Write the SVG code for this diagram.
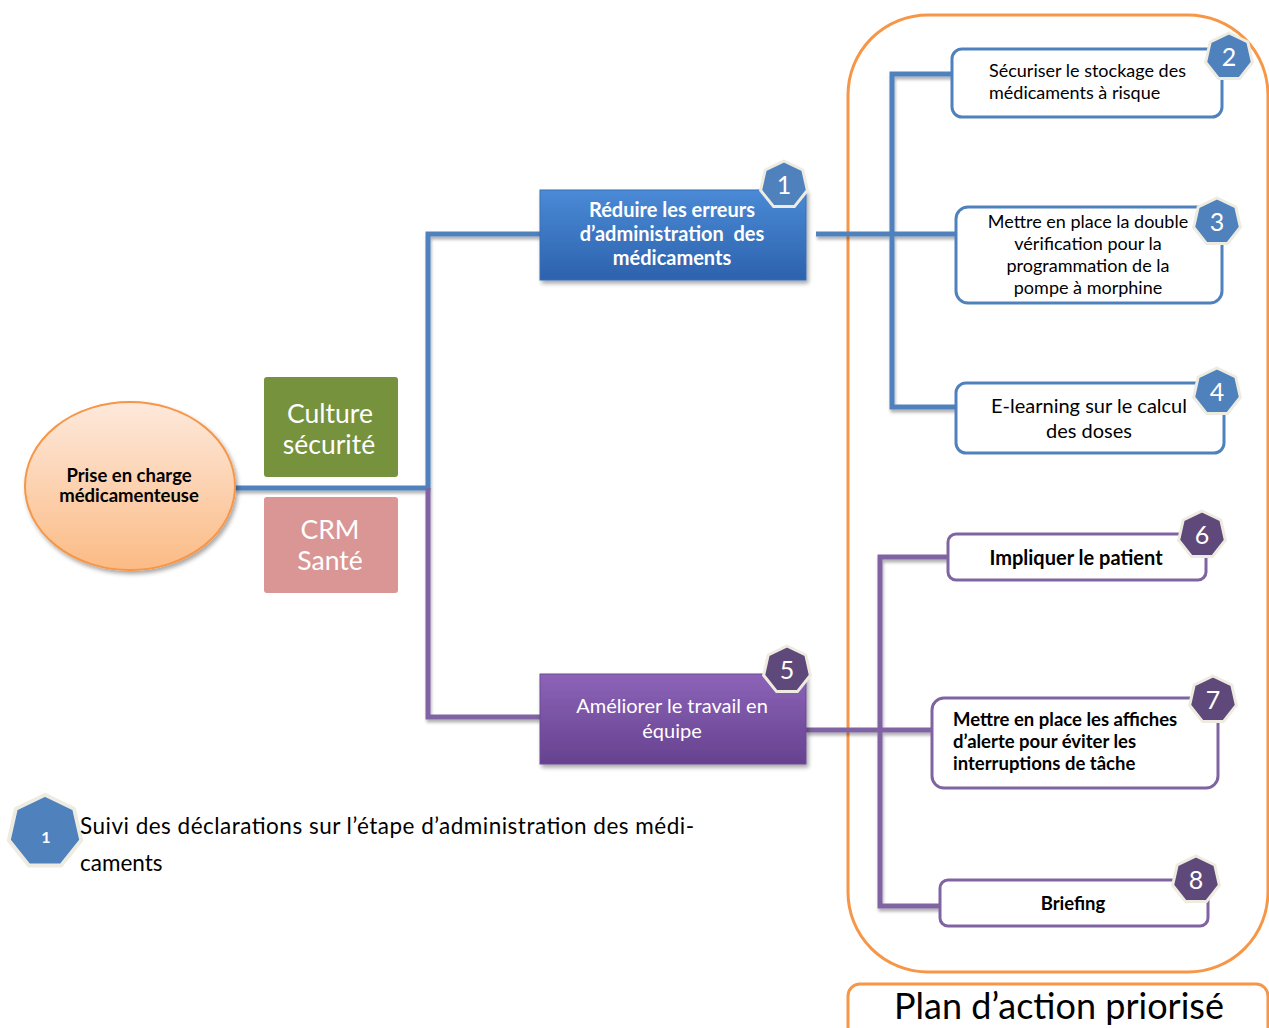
<svg xmlns="http://www.w3.org/2000/svg" width="1269" height="1028" viewBox="0 0 1269 1028">
<defs>
<linearGradient id="gBlue" x1="0" y1="0" x2="0" y2="1"><stop offset="0" stop-color="#4a8ad6"/><stop offset="1" stop-color="#2d62ad"/></linearGradient>
<linearGradient id="gPurple" x1="0" y1="0" x2="0" y2="1"><stop offset="0" stop-color="#8c63b8"/><stop offset="1" stop-color="#66428f"/></linearGradient>
<linearGradient id="gOrange" x1="0" y1="0" x2="0" y2="1"><stop offset="0" stop-color="#fde9dc"/><stop offset="1" stop-color="#fbbb85"/></linearGradient>
<filter id="sh" x="-10%" y="-10%" width="130%" height="140%"><feDropShadow dx="2" dy="3" stdDeviation="2" flood-color="#000" flood-opacity="0.35"/></filter>
<filter id="lsh" x="-5%" y="-5%" width="110%" height="110%"><feDropShadow dx="1" dy="3" stdDeviation="1.5" flood-color="#000" flood-opacity="0.3"/></filter>
<polygon id="hept" points="0,-24 18.8,-15 23.4,5.3 10.4,21.6 -10.4,21.6 -23.4,5.3 -18.8,-15"/>
<style>
text{font-family:Lato,"Open Sans","Liberation Sans",sans-serif;}
.blueline{fill:none;stroke:#4f81bd;stroke-width:5;}
.purpline{fill:none;stroke:#8064a2;stroke-width:5;}
.bnode{fill:#fff;stroke:#4f81bd;stroke-width:3;}
.pnode{fill:#fff;stroke:#8064a2;stroke-width:3;}
.badgeB{fill:#4f81bd;stroke:#eeece1;stroke-width:3;}
.badgeP{fill:#5f497a;stroke:#eeece1;stroke-width:3;}
.num{fill:#fff;font-size:25px;text-anchor:middle;}
.t{fill:#000;font-size:18px;}
.c{text-anchor:middle;}
.b{font-weight:bold;}
</style>
</defs>
<rect width="1269" height="1028" fill="#fff"/>

<g id="container">
<rect x="848" y="15" width="420" height="957" rx="80" fill="none" stroke="#f79646" stroke-width="3"/>
</g>
<g id="title">
<rect x="848" y="984" width="420" height="60" rx="12" fill="#fff" stroke="#f79646" stroke-width="3"/>
<text x="1059" y="1019" style="font-size:36px" class="c" fill="#000">Plan d’action priorisé</text>
</g>

<g id="connectors" filter="url(#lsh)">
<polyline class="blueline" points="235,488 428,488 428,234 540,234"/>
<polyline class="purpline" points="428,488 428,717 540,717"/>
<line class="blueline" x1="816" y1="234" x2="956" y2="234"/>
<polyline class="blueline" points="952,74 892,74 892,407 956,407"/>
<line class="purpline" x1="806" y1="730" x2="932" y2="730"/>
<polyline class="purpline" points="948,557 880,557 880,906 940,906"/>
</g>

<g id="n0">
<ellipse cx="130" cy="486" rx="105" ry="84" fill="url(#gOrange)" stroke="#f79646" stroke-width="2" filter="url(#sh)"/>
<text x="129" y="482" class="t c b" style="font-size:18.5px">Prise en charge</text>
<text x="129" y="502" class="t c b" style="font-size:18.5px">médicamenteuse</text>
</g>

<g id="culture">
<rect x="263" y="376" width="136" height="102" rx="4" fill="#76923c" stroke="#fff" stroke-width="2"/>
<text x="330" y="423" class="c" fill="#fff" style="font-size:26.5px">Culture</text>
<text x="329" y="454" class="c" fill="#fff" style="font-size:26.5px">sécurité</text>
</g>
<g id="crm">
<rect x="263" y="496" width="136" height="98" rx="4" fill="#d99694" stroke="#fff" stroke-width="2"/>
<text x="330" y="539" class="c" fill="#fff" style="font-size:26.5px">CRM</text>
<text x="330" y="570" class="c" fill="#fff" style="font-size:26.5px">Santé</text>
</g>

<g id="n1">
<rect x="540" y="190" width="266" height="90" fill="url(#gBlue)" stroke="#3a6fb5" stroke-width="1" filter="url(#sh)"/>
<text x="672" y="217" class="c b" fill="#fff" style="font-size:20px">Réduire les erreurs</text>
<text x="672" y="241" class="c b" fill="#fff" style="font-size:20px" xml:space="preserve">d’administration  des</text>
<text x="672" y="265" class="c b" fill="#fff" style="font-size:20px">médicaments</text>
<use href="#hept" x="784" y="185" class="badgeB"/>
<text x="784" y="194" class="num">1</text>
</g>

<g id="n5">
<rect x="540" y="674" width="266" height="90" fill="url(#gPurple)" stroke="#6a4a94" stroke-width="1" filter="url(#sh)"/>
<text x="672" y="713" class="c" fill="#fff" style="font-size:20px">Améliorer le travail en</text>
<text x="672" y="738" class="c" fill="#fff" style="font-size:20px">équipe</text>
<use href="#hept" x="787" y="670" class="badgeP"/>
<text x="787" y="679" class="num">5</text>
</g>

<g id="n2">
<rect x="952" y="49" width="270" height="68" rx="10" class="bnode"/>
<text x="989" y="77" class="t">Sécuriser le stockage des</text>
<text x="989" y="99" class="t">médicaments à risque</text>
<use href="#hept" x="1229" y="57" class="badgeB"/>
<text x="1229" y="66" class="num">2</text>
</g>

<g id="n3">
<rect x="956" y="207" width="266" height="96" rx="12" class="bnode"/>
<text x="1088" y="228" class="t c">Mettre en place la double</text>
<text x="1088" y="250" class="t c">vérification pour la</text>
<text x="1088" y="272" class="t c">programmation de la</text>
<text x="1088" y="294" class="t c">pompe à morphine</text>
<use href="#hept" x="1217" y="222" class="badgeB"/>
<text x="1217" y="231" class="num">3</text>
</g>

<g id="n4">
<rect x="956" y="383" width="268" height="70" rx="10" class="bnode"/>
<text x="1089" y="413" class="t c" style="font-size:20px">E-learning sur le calcul</text>
<text x="1089" y="438" class="t c" style="font-size:20px">des doses</text>
<use href="#hept" x="1217" y="392" class="badgeB"/>
<text x="1217" y="401" class="num">4</text>
</g>

<g id="n6">
<rect x="948" y="534" width="258" height="46" rx="8" class="pnode"/>
<text x="1076" y="565" class="t c b" style="font-size:20px">Impliquer le patient</text>
<use href="#hept" x="1202" y="535" class="badgeP"/>
<text x="1202" y="544" class="num">6</text>
</g>

<g id="n7">
<rect x="932" y="698" width="286" height="90" rx="12" class="pnode"/>
<text x="953" y="726" class="t b" style="font-size:18.5px">Mettre en place les affiches</text>
<text x="953" y="748" class="t b" style="font-size:18.5px">d’alerte pour éviter les</text>
<text x="953" y="770" class="t b" style="font-size:18.5px">interruptions de tâche</text>
<use href="#hept" x="1213" y="700" class="badgeP"/>
<text x="1213" y="709" class="num">7</text>
</g>

<g id="n8">
<rect x="940" y="880" width="268" height="46" rx="8" class="pnode"/>
<text x="1073" y="910" class="t c b" style="font-size:18.5px">Briefing</text>
<use href="#hept" x="1196" y="880" class="badgeP"/>
<text x="1196" y="889" class="num">8</text>
</g>

<g id="legend">
<use href="#hept" transform="translate(45,832) scale(1.55)" fill="#4f81bd" stroke="#eeece1" stroke-width="2.5"/>
<text x="46" y="843" class="c b" fill="#fff" style="font-size:16px">1</text>
<text x="80" y="834" class="t" style="font-size:22.5px" textLength="614" lengthAdjust="spacing">Suivi des déclarations sur l’étape d’administration des médi-</text>
<text x="80" y="871" class="t" style="font-size:22.5px">caments</text>
</g>
</svg>
